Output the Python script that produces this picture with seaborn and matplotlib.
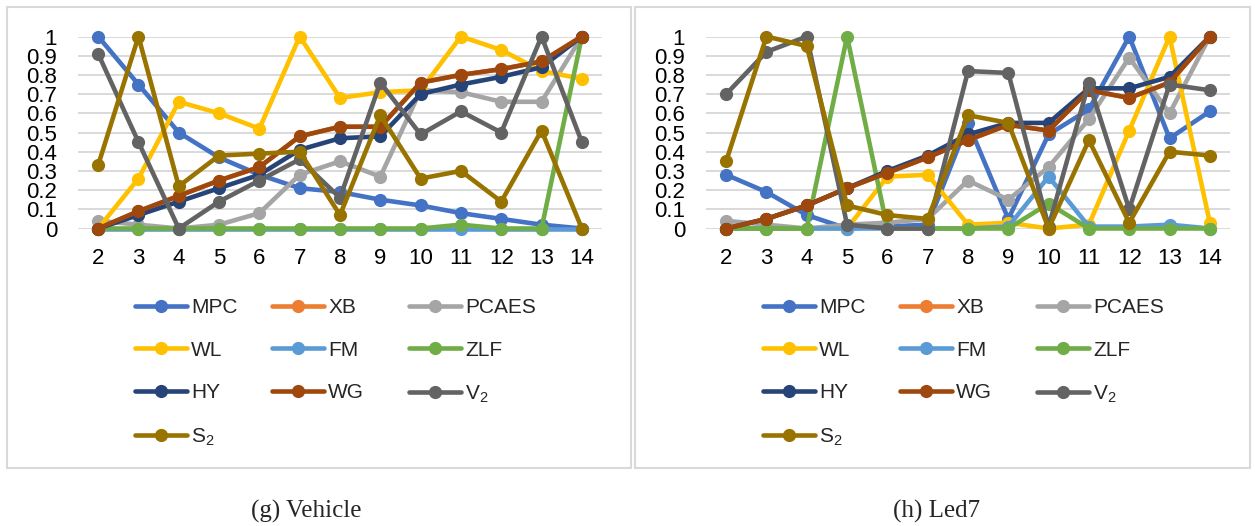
import numpy as np
import pandas as pd
import seaborn as sns
import matplotlib.pyplot as plt
from matplotlib.lines import Line2D
from matplotlib.patches import Rectangle

# cluster number k on the x axis
k_values = list(range(2, 15))
y_ticks = [0, 0.1, 0.2, 0.3, 0.4, 0.5, 0.6, 0.7, 0.8, 0.9, 1.0]
y_tick_labels = ['0', '0.1', '0.2', '0.3', '0.4', '0.5', '0.6', '0.7', '0.8', '0.9', '1']

methods = ['MPC', 'XB', 'PCAES', 'WL', 'FM', 'ZLF', 'HY', 'WG', 'V2', 'S2']
method_labels = ['MPC', 'XB', 'PCAES', 'WL', 'FM', 'ZLF', 'HY', 'WG', 'V$_2$', 'S$_2$']
method_colors = ['#4472C4', '#ED7D31', '#A5A5A5', '#FFC000', '#5B9BD5',
                 '#70AD47', '#264478', '#9E480E', '#636363', '#997300']

# (g) Vehicle
veh_mpc = [1.0, 0.75, 0.50, 0.37, 0.28, 0.21, 0.19, 0.15, 0.12, 0.08, 0.05, 0.02, 0.0]
veh_xb = [0.0, 0.09, 0.17, 0.25, 0.32, 0.48, 0.53, 0.53, 0.76, 0.80, 0.83, 0.87, 1.0]
veh_pcaes = [0.04, 0.02, 0.0, 0.02, 0.08, 0.28, 0.35, 0.27, 0.72, 0.71, 0.66, 0.66, 1.0]
veh_wl = [0.0, 0.26, 0.66, 0.60, 0.52, 1.0, 0.68, 0.71, 0.72, 1.0, 0.93, 0.82, 0.78]
veh_fm = [0.0, 0.0, 0.0, 0.0, 0.0, 0.0, 0.0, 0.0, 0.0, 0.0, 0.0, 0.0, 0.0]
veh_zlf = [0.0, 0.0, 0.0, 0.0, 0.0, 0.0, 0.0, 0.0, 0.0, 0.02, 0.0, 0.0, 1.0]
veh_hy = [0.0, 0.07, 0.14, 0.21, 0.28, 0.41, 0.47, 0.48, 0.70, 0.75, 0.79, 0.84, 1.0]
veh_wg = [0.0, 0.09, 0.17, 0.25, 0.32, 0.48, 0.53, 0.53, 0.76, 0.80, 0.83, 0.87, 1.0]
veh_v2 = [0.91, 0.45, 0.0, 0.14, 0.25, 0.36, 0.16, 0.76, 0.49, 0.61, 0.50, 1.0, 0.45]
veh_s2 = [0.33, 1.0, 0.22, 0.38, 0.39, 0.40, 0.07, 0.59, 0.26, 0.30, 0.14, 0.51, 0.0]

# (h) Led7
led_mpc = [0.28, 0.19, 0.07, 0.0, 0.01, 0.02, 0.55, 0.05, 0.49, 0.62, 1.0, 0.47, 0.61]
led_xb = [0.0, 0.05, 0.12, 0.21, 0.29, 0.37, 0.46, 0.54, 0.51, 0.72, 0.68, 0.76, 1.0]
led_pcaes = [0.04, 0.02, 0.0, 0.02, 0.03, 0.05, 0.25, 0.15, 0.32, 0.57, 0.89, 0.60, 1.0]
led_wl = [0.0, 0.0, 0.0, 0.0, 0.27, 0.28, 0.02, 0.03, 0.0, 0.02, 0.51, 1.0, 0.03]
led_fm = [0.0, 0.0, 0.0, 0.0, 0.0, 0.0, 0.0, 0.01, 0.27, 0.01, 0.01, 0.02, 0.0]
led_zlf = [0.0, 0.0, 0.0, 1.0, 0.0, 0.0, 0.0, 0.0, 0.13, 0.0, 0.0, 0.0, 0.0]
led_hy = [0.0, 0.05, 0.12, 0.21, 0.30, 0.38, 0.49, 0.55, 0.55, 0.73, 0.73, 0.79, 1.0]
led_wg = [0.0, 0.05, 0.12, 0.21, 0.29, 0.37, 0.46, 0.54, 0.51, 0.72, 0.68, 0.76, 1.0]
led_v2 = [0.70, 0.92, 1.0, 0.02, 0.0, 0.0, 0.82, 0.81, 0.01, 0.76, 0.10, 0.75, 0.72]
led_s2 = [0.35, 1.0, 0.95, 0.12, 0.07, 0.05, 0.59, 0.55, 0.0, 0.46, 0.03, 0.40, 0.38]

vehicle = [veh_mpc, veh_xb, veh_pcaes, veh_wl, veh_fm, veh_zlf, veh_hy, veh_wg, veh_v2, veh_s2]
led7 = [led_mpc, led_xb, led_pcaes, led_wl, led_fm, led_zlf, led_hy, led_wg, led_v2, led_s2]


def to_long(series):
    rows = []
    for name, vals in zip(methods, series):
        for k, v in zip(k_values, vals):
            rows.append({'k': k, 'value': v, 'method': name})
    return pd.DataFrame(rows)


sns.set_style('white')
plt.rcParams['font.family'] = ['Liberation Sans', 'DejaVu Sans']
plt.rcParams['mathtext.fontset'] = 'custom'
plt.rcParams['mathtext.rm'] = 'Liberation Sans'
plt.rcParams['mathtext.it'] = 'Liberation Sans:italic'

W, H = 1255, 526
fig = plt.figure(figsize=(W / 100, H / 100), dpi=100)
palette = dict(zip(methods, method_colors))


def px(x, y):
    return x / W, 1 - y / H


def draw_panel(left_px, series, caption, box, legend_x, caption_x):
    ax = fig.add_axes([left_px / W, 1 - 228.5 / H, 524 / W, 192 / H])
    df = to_long(series)
    sns.lineplot(data=df, x='k', y='value', hue='method', hue_order=methods,
                 palette=palette, marker='o', markersize=9.5, markeredgewidth=0,
                 linewidth=3.3, errorbar=None, legend=False, ax=ax)
    for ln in ax.lines:
        ln.set_clip_on(False)
    ax.set_xlim(1.5, 14.5)
    ax.set_ylim(0, 1)
    ax.set_xticks(k_values)
    ax.set_xticklabels([str(k) for k in k_values])
    ax.set_yticks(y_ticks)
    ax.set_yticklabels(y_tick_labels)
    ax.set_xlabel('')
    ax.set_ylabel('')
    ax.yaxis.grid(True, color='#D9D9D9', lw=1.4)
    ax.set_axisbelow(True)
    for s in ax.spines.values():
        s.set_visible(False)
    ax.tick_params(axis='both', length=0, labelsize=16, colors='black')
    ax.tick_params(axis='y', pad=15)
    ax.tick_params(axis='x', pad=14)

    # legend, three columns filled row by row
    handles = [Line2D([], [], color=c, lw=3.3, marker='o', markersize=9.5,
                      markeredgewidth=0) for c in method_colors]
    for col in range(3):
        idx = list(range(col, len(methods), 3))
        x0, y0 = px(legend_x[col], 298)
        fig.legend([handles[i] for i in idx], [method_labels[i] for i in idx],
                   loc='upper left', bbox_to_anchor=(x0, y0), frameon=False,
                   borderpad=0, borderaxespad=0, handlelength=2.5,
                   handletextpad=0.2, labelspacing=1.14, fontsize=15)

    bx0, by0, bx1, by1 = box
    fig.patches.append(Rectangle((bx0 / W, 1 - by1 / H), (bx1 - bx0) / W, (by1 - by0) / H,
                                 transform=fig.transFigure, fill=False,
                                 edgecolor='#D9D9D9', lw=1.5))
    fig.text(caption_x / W, 1 - 511 / H, caption, ha='center', va='center',
             fontsize=18, family=['Liberation Serif', 'DejaVu Serif'])


draw_panel(78, vehicle, '(g) Vehicle', (7, 7, 631, 468), [135, 272, 409], 306)
draw_panel(706, led7, '(h) Led7', (635, 7, 1250, 468), [763, 900, 1037], 937)

fig.savefig('out.png', dpi=100)
